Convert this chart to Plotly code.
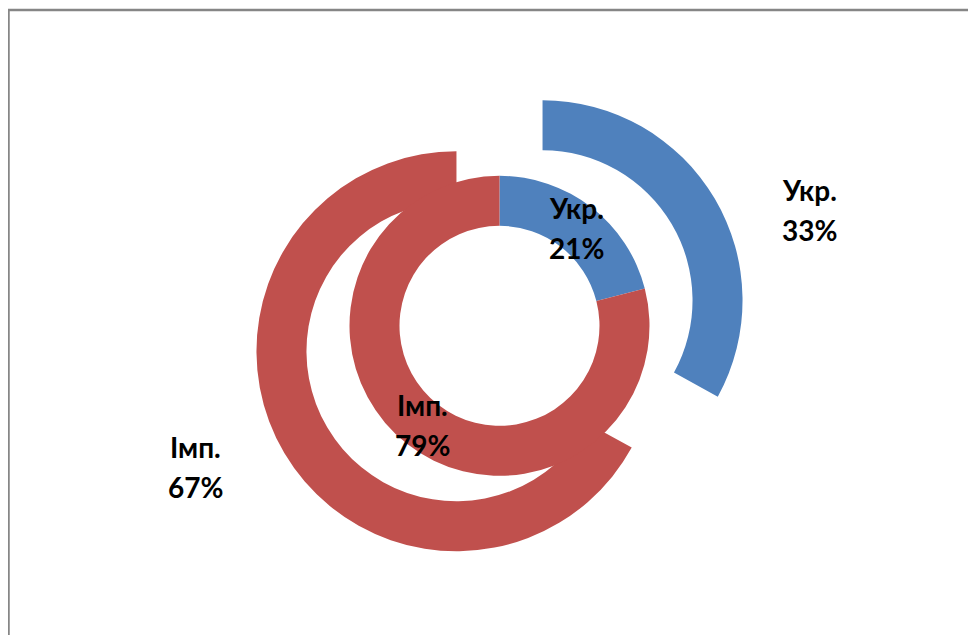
import plotly.graph_objects as go

categories = ["Укр.", "Імп."]
inner_values = [21, 79]
outer_values = [33, 67]
colors = ["#4F81BD", "#C0504D"]

W, H = 976, 635
OFF = 8  # page body margin of the browser
cx, cy = 499.5 - OFF, 325.8 - OFF  # pixel centre (from top)

def dom(r_box):
    half = r_box / 2
    return dict(x=[(cx - half) / W, (cx + half) / W],
                y=[(H - cy - half) / H, (H - cy + half) / H])

fig = go.Figure()
# outer exploded ring: radius 200, pull 0.25 -> box 500
fig.add_trace(go.Pie(
    labels=categories, values=outer_values, sort=False, direction="clockwise",
    rotation=0, hole=0.75, pull=[0.25, 0.25], domain=dom(500),
    marker=dict(colors=colors, line=dict(width=0)), textinfo="none",
    showlegend=False,
))
# inner ring: radius 150
fig.add_trace(go.Pie(
    labels=categories, values=inner_values, sort=False, direction="clockwise",
    rotation=0, hole=2 / 3, domain=dom(300),
    marker=dict(colors=colors, line=dict(width=0)), textinfo="none",
    showlegend=False,
))

label_pos_outer = [(809, 210), (195, 467)]
label_pos_inner = [(576, 228), (422, 425)]
font = dict(family="Lato, Open Sans, sans-serif", size=28, color="#000000")

def add_label(cat, val, px, py):
    px -= OFF
    py -= OFF
    for txt, yy in ((cat, py - 20), (f"{val}%", py + 20)):
        fig.add_annotation(x=px / W, y=1 - yy / H, xref="paper", yref="paper",
                           xanchor="center", yanchor="middle",
                           text=f"<b>{txt}</b>", showarrow=False, font=font)

for cat, val, (px, py) in zip(categories, outer_values, label_pos_outer):
    add_label(cat, val, px, py)
for cat, val, (px, py) in zip(categories, inner_values, label_pos_inner):
    add_label(cat, val, px, py)

# chart frame (only top and left visible in the crop)
fig.add_shape(type="rect", xref="paper", yref="paper",
              x0=0.5 / W, x1=1.05, y0=-0.05, y1=1 - 2 / H,
              line=dict(color="#868686", width=2.5))

fig.update_layout(width=W, height=H, margin=dict(l=0, r=0, t=0, b=0),
                  paper_bgcolor="white", plot_bgcolor="white")
fig.write_html("out.html")
